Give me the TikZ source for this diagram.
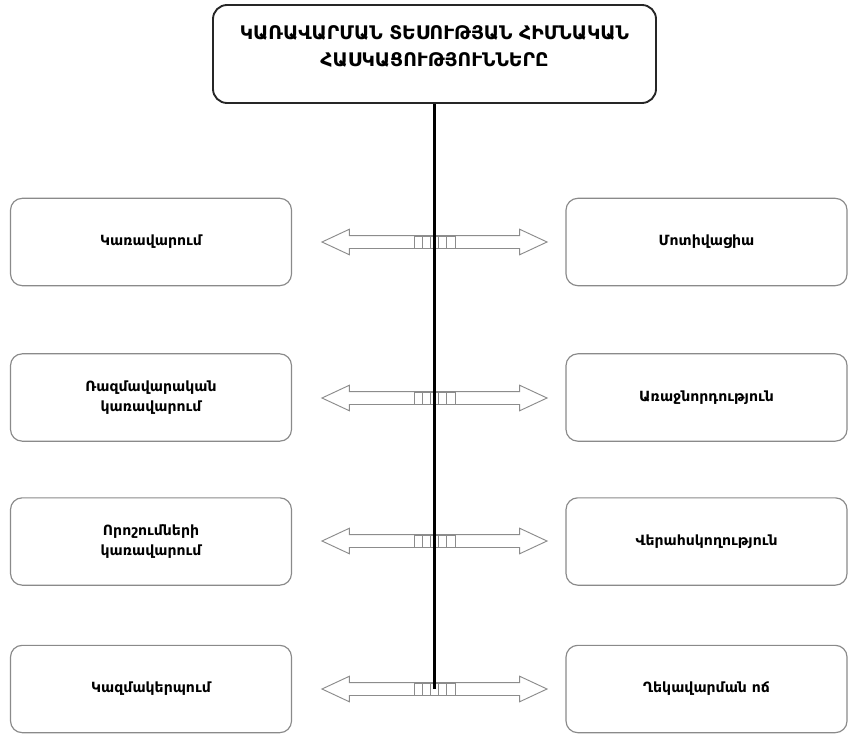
\documentclass[tikz,border=0pt]{standalone}
\usepackage{fontspec}
\setmainfont{DejaVu Sans}
\usepackage{tikz}
\usetikzlibrary{positioning,shapes.arrows}
\definecolor{boxgray}{HTML}{8A8A8A}
\definecolor{arrgray}{HTML}{8C8C8C}

\begin{document}
\begin{tikzpicture}[
  x=0.03cm, y=-0.03cm,
  font=\bfseries\fontsize{12}{17}\selectfont,
  titlebox/.style={draw=black!85, line width=1.6pt, rounded corners=12pt, fill=white,
               align=center, minimum width=13.29cm, minimum height=2.94cm, inner sep=4pt,
               font=\bfseries\fontsize{16}{23}\selectfont, text depth=0.45cm},
  topic/.style={draw=boxgray, line width=1pt, rounded corners=10pt, fill=white, align=center,
               minimum width=8.43cm, minimum height=2.62cm, inner sep=4pt},
  link/.style={double arrow, draw=arrgray, line width=0.8pt, fill=white, inner sep=0pt,
               text height=0.18cm, text depth=0.18cm,
               minimum height=6.75cm, minimum width=0.75cm,
               double arrow head extend=0.19cm, double arrow tip angle=50},
  cell/.style={draw=arrgray, line width=0.7pt, fill=white},
  spine/.style={line width=2.2pt, black}
]
\useasboundingbox (0,0) rectangle (851,734);

\node[titlebox] (title) at (434.5,54) {ԿԱՌԱՎԱՐՄԱՆ ՏԵՍՈՒԹՅԱՆ ՀԻՄՆԱԿԱՆ\\ՀԱՍԿԱՑՈՒԹՅՈՒՆՆԵՐԸ};

% left column
\node[topic] (kar) at (151,242) {Կառավարում};
\node[topic] (razm) at (151,397.5) {Ռազմավարական\\կառավարում};
\node[topic] (vor) at (151,541.5) {Որոշումների\\կառավարում};
\node[topic] (kazm) at (151,689) {Կազմակերպում};

% right column
\node[topic, right=8.2cm of kar] (mot) {Մոտիվացիա};
\node[topic, right=8.2cm of razm] (ara) {Առաջնորդություն};
\node[topic, right=8.2cm of vor] (ver) {Վերահսկողություն};
\node[topic, right=8.2cm of kazm] (ghek) {Ղեկավարման ոճ};

% double arrows
\foreach \n/\y in {1/242, 2/398, 3/541, 4/689} {
  \node[link] (arr\n) at (434.5,\y) {};
  \foreach \i in {0,...,4}
    \draw[cell] (414+\i*8.2,\y-6) rectangle ++(8.2,12);
}

\draw[spine] (title.south) -- (arr4.center);
\end{tikzpicture}
\end{document}
